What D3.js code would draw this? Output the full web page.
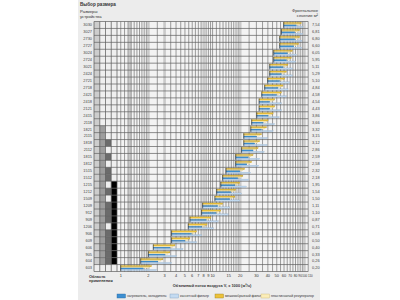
<!DOCTYPE html>
<html>
<head>
<meta charset="utf-8">
<script src="https://cdn.jsdelivr.net/npm/d3@7"></script>
<style>
body{margin:0;background:#fff}
svg{display:block;font-family:"Liberation Sans",Arial,sans-serif}
</style>
</head>
<body>
<div id="chart"></div>
<script>
// размеры устройства (сверху вниз) и фронтальное сечение, м2
const sizes = ['3030','3027','2730','2727','3024','2724','3021','2424','2721','2718','2421','2418',
  '2121','2415','2118','1821','2115','1818','2112','1815','1812','1515','1512','1215',
  '1212','1509','1209','912','909','1206','906','609','606','905','604','603'];
const areas = ['7,54','6,81','6,80','6,60','6,05','5,95','5,11','5,29','5,10','4,84','4,58','4,54',
  '4,43','3,86','3,66','3,32','3,15','3,12','2,86','2,59','2,58','2,32','2,18','1,95',
  '1,54','1,50','1,11','1,10','0,87','0,71','0,58','0,50','0,40','0,33','0,26','0,20'];

// расход воздуха x1000 м3/ч: начало и конец полос
const flowMin = [59.6,56.2,53.9,53.9,46.4,46.4,42.0,42.0,39.9,37.0,34.4,32.1,
  32.1,30.3,26.7,26.1,21.9,21.9,20.7,17.9,17.9,14.0,12.9,12.3,
  11.1,10.6,7.8,7.6,5.67,5.43,3.58,3.58,2.26,2.0,1.65,1.0];
const heaterMax = [81.8,78.5,78.5,76.5,65.3,63.7,58.5,56.2,53.9,51.6,49.6,42.0,
  42.0,40.2,35.5,34.1,30.1,28.8,27.6,24.4,23.6,19.8,18.8,17.5,
  15.8,15.4,11.4,10.9,8.5,7.65,5.9,5.0,3.43,3.03,2.54,1.76];
const cassetteMax = [96.6,95.9,94.2,93.5,81.8,80.4,74.1,74.1,69.2,66.3,63.7,56.2,
  56.2,53.0,47.5,45.6,39.6,39.2,36.4,32.7,31.9,25.9,24.8,23.3,
  20.7,19.8,15.4,14.8,11.5,10.2,7.6,6.7,4.76,4.06,3.58,2.46];
const bagMax = [92.7,88.9,88.9,86.7,74.1,72.2,66.3,63.7,61.1,58.5,56.2,47.5,
  47.5,45.6,40.2,38.6,34.1,32.7,31.3,27.6,26.7,22.4,21.4,19.8,
  17.9,17.5,12.9,12.3,9.6,8.7,6.7,5.67,3.89,3.43,2.88,2.17];
const plateMax = [88.2,84.6,84.6,82.4,70.4,68.7,63.1,60.6,58.1,55.7,53.5,45.2,
  45.2,43.4,38.3,36.7,32.4,31.1,29.8,26.3,25.4,21.4,20.3,18.8,
  17.0,16.6,12.3,11.7,9.1,8.25,6.4,5.4,3.70,3.27,2.74,2.03];

const xTicks = [1,2,3,4,5,6,7,8,9,10,15,20,30,40,50,60,70,80,90,100,110];
const bandTicks = [1.25,2,3,8,20,100];

// область применения: 4 столбца, по символу на строку
const zoneCols = [
  'lllllllllllllllllllllllllllllllllllw',
  'wwwwwwwwwwwwwwwmmmmmmmmmmmmmmmmmmmmw',
  'wwwwwwwwwwwwwwwwwdwdwddwdwdddwdddddw',
  'wwwwwwwwwwwwwwwwwwwwwwwkkkkkkkkkkkkw'
];
const zoneColor = {l:'#cdcdcd', w:'#efefef', m:'#9d9d9d', d:'#6b6b6b', k:'#000'};

const series = [
  {name:'нагреватель, охладитель', color:'#3d8fd1', stroke:'#2c6aa0'},
  {name:'кассетный фильтр', color:'#c4dbf1', stroke:'#7e9dbd'},
  {name:'мешкообразный фильтр', color:'#ecc23a', stroke:'#9a7e20'},
  {name:'пластинчатый рекуператор', color:'#fbedb8', stroke:'#c9b670'}
];

let w = 400, h = 300;
let svg = d3.select('#chart').append('svg').attr('width', w).attr('height', h);

svg.append('rect').attr('x',78).attr('y',0).attr('width',242).attr('height',h).attr('fill','#ececec');

let x = d3.scaleLog().domain([0.91,110]).range([117,308.2]);
let y = d3.scaleBand().domain(sizes).range([21.5,271.5]);
let rh = y.bandwidth();

// фон сетки
svg.append('rect').attr('x',94).attr('y',21.5).attr('width',308.2-94).attr('height',250)
  .attr('fill','#f3f3f3');

// клетки области применения
let zx = [94,99.75,105.5,111.25];
zoneCols.forEach((col,c)=>{
  svg.append('g').selectAll('rect').data(sizes).enter().append('rect')
    .attr('x', zx[c]).attr('y', d=>y(d)).attr('width',5.75).attr('height',rh)
    .attr('fill', (d,i)=>zoneColor[col[i]]);
});

// вертикальные линии логарифмической сетки
let gridVals = [];
for (let v=1; v<2-1e-9; v+=0.1) gridVals.push(+v.toFixed(2));
for (let v=2; v<10-1e-9; v+=0.5) gridVals.push(v);
for (let v=10; v<20; v+=1) gridVals.push(v);
for (let v=20; v<100; v+=5) gridVals.push(v);
gridVals.push(100,110);

svg.append('g').selectAll('rect').data(bandTicks).enter().append('rect')
  .attr('x', d=>x(d)-1.3).attr('y',21.5).attr('width',2.6).attr('height',250)
  .attr('fill','#c9c9c9');

svg.append('g').selectAll('line').data(gridVals.filter(v=>bandTicks.indexOf(v)<0)).enter().append('line')
  .attr('x1', d=>x(d)).attr('x2', d=>x(d)).attr('y1',21.5).attr('y2',271.5)
  .attr('stroke','#6a6a6a').attr('stroke-width',0.65);

svg.append('g').selectAll('line').data(zx.concat([117])).enter().append('line')
  .attr('x1', d=>d).attr('x2', d=>d).attr('y1',21.5).attr('y2',271.5)
  .attr('stroke','#555').attr('stroke-width',0.7);

// горизонтальные линии строк
svg.append('g').selectAll('line').data(sizes.concat(['end'])).enter().append('line')
  .attr('x1',94).attr('x2',308.2)
  .attr('y1', (d,i)=>21.5+i*rh).attr('y2', (d,i)=>21.5+i*rh)
  .attr('stroke','#5e5e5e').attr('stroke-width',0.7);

// полосы
let bars = [
  {max:bagMax, s:series[2], off:0.9, hh:1.4},
  {max:plateMax, s:series[3], off:2.3, hh:1.1},
  {max:heaterMax, s:series[0], off:3.4, hh:1.4},
  {max:cassetteMax, s:series[1], off:4.8, hh:1.3}
];
bars.forEach(b=>{
  svg.append('g').selectAll('rect').data(sizes).enter().append('rect')
    .attr('x', (d,i)=>x(flowMin[i]))
    .attr('y', d=>y(d)+b.off)
    .attr('width', (d,i)=>x(b.max[i])-x(flowMin[i]))
    .attr('height', b.hh)
    .attr('fill', b.s.color)
    .attr('stroke', b.s.stroke).attr('stroke-width',0.25);
});
svg.append('g').selectAll('line').data(sizes).enter().append('line')
  .attr('x1', (d,i)=>x(flowMin[i])).attr('x2', (d,i)=>x(flowMin[i]))
  .attr('y1', d=>y(d)+0.8).attr('y2', d=>y(d)+rh-0.6)
  .attr('stroke','#222').attr('stroke-width',0.6);

// подписи строк
svg.append('g').selectAll('text').data(sizes).enter().append('text')
  .attr('x',92).attr('y', d=>y(d)+rh/2+1.4)
  .attr('text-anchor','end').attr('font-size',3.9).attr('fill','#444')
  .text(d=>d);
svg.append('g').selectAll('text').data(areas).enter().append('text')
  .attr('x',312).attr('y', (d,i)=>y(sizes[i])+rh/2+1.4)
  .attr('font-size',3.9).attr('fill','#444')
  .text(d=>d);

// ось X
svg.append('g').selectAll('text').data(xTicks).enter().append('text')
  .attr('x', d=> d===100 ? x(d)-2.1 : d===110 ? x(d)-0.2 : x(d)).attr('y',277)
  .attr('text-anchor', d=> d>=100 ? 'start' : 'middle')
  .attr('font-size', d=> d>=100 ? 2.9 : d>=70 ? 3.3 : 3.9).attr('fill','#333')
  .text(d=>d);

svg.append('text').attr('x',80).attr('y',5.5).attr('font-size',4.6).attr('font-weight','bold')
  .attr('fill','#333').text('Выбор размера');
svg.append('text').attr('x',80).attr('y',12.5).attr('font-size',4.2).attr('fill','#333').text('Размеры');
svg.append('text').attr('x',80).attr('y',17.5).attr('font-size',4.2).attr('fill','#333').text('устройства');
svg.append('text').attr('x',318).attr('y',12).attr('text-anchor','end').attr('font-size',4.2)
  .attr('fill','#333').text('Фронтальное');
svg.append('text').attr('x',318).attr('y',17).attr('text-anchor','end').attr('font-size',4.2)
  .attr('fill','#333').text('сечение  м²');
svg.append('text').attr('x',89).attr('y',277.5).attr('font-size',3.9).attr('font-weight','bold')
  .attr('fill','#333').text('Область');
svg.append('text').attr('x',89).attr('y',282).attr('font-size',3.9).attr('font-weight','bold')
  .attr('fill','#333').text('применения');
svg.append('text').attr('x',212).attr('y',287).attr('text-anchor','middle').attr('font-size',3.9)
  .attr('font-weight','bold').attr('fill','#333').text('Объемный поток воздуха V, x 1000 (м³/ч)');

// легенда
let lx = [117,170,215,261];
let leg = svg.append('g').selectAll('g').data(series).enter().append('g')
  .attr('transform', (d,i)=>'translate('+lx[i]+',294)');
leg.append('rect').attr('width',8.5).attr('height',4).attr('fill', d=>d.color)
  .attr('stroke', d=>d.stroke).attr('stroke-width',0.4);
leg.append('text').attr('x',10).attr('y',3.4).attr('font-size',3.4).attr('fill','#333').text(d=>d.name);
</script>
</body>
</html>
